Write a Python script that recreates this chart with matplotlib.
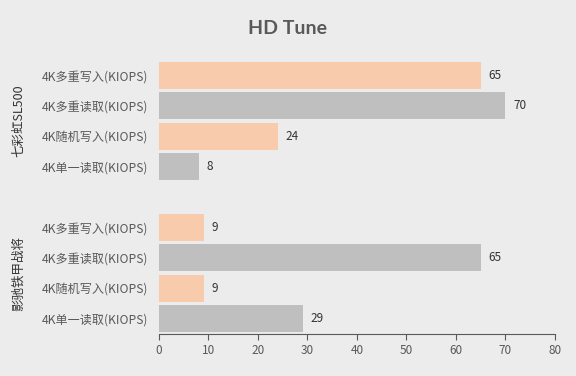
import matplotlib
matplotlib.use('Agg')
import matplotlib.pyplot as plt

plt.rcParams['font.family'] = ['Noto Sans CJK SC', 'DejaVu Sans']

groups = ['七彩虹SL500', '影驰铁甲战将']
labels = ['4K多重写入(KIOPS)', '4K多重读取(KIOPS)', '4K随机写入(KIOPS)', '4K单一读取(KIOPS)']
values = {
    '七彩虹SL500': [65, 70, 24, 8],
    '影驰铁甲战将': [9, 65, 9, 29],
}
x_ticks = [0, 10, 20, 30, 40, 50, 60, 70, 80]

bg = '#ECECEC'
orange = '#F8CBAD'
grey = '#BFBFBF'
txt = '#595959'

fig = plt.figure(figsize=(5.76, 3.76), dpi=100, facecolor=bg)
ax = fig.add_axes([0.276, 0.112, 0.6875, 0.728], facecolor=bg)

ypos, ylabels = [], []
for gi, g in enumerate(groups):
    for i, (lab, v) in enumerate(zip(labels, values[g])):
        y = gi * 5 + i
        col = orange if i % 2 == 0 else grey
        ax.barh(y, v, height=0.88, color=col)
        ax.text(v + 1.6, y, str(v), va='center', ha='left', fontsize=8.5, color='#333333')
        ypos.append(y)
        ylabels.append(lab)
    ax.text(-0.355, gi * 5 + 1.5, g, transform=ax.get_yaxis_transform(), rotation=90,
            va='center', ha='center', fontsize=9, color='#333333')

ax.set_yticks(ypos)
ax.set_yticklabels(ylabels, fontsize=8.7, color=txt)
ax.set_ylim(8.5, -0.5)
ax.set_xlim(0, 80)
ax.set_xticks(x_ticks)
ax.tick_params(axis='x', labelsize=8.5, labelcolor=txt, color=txt, length=4)
ax.tick_params(axis='y', length=0, pad=8)
for s in ['top', 'right', 'left']:
    ax.spines[s].set_visible(False)
ax.spines['bottom'].set_color(txt)

fig.suptitle('HD Tune', x=0.5, y=0.948, fontsize=14, fontweight='bold', color=txt,
             family=['Lato', 'DejaVu Sans'])
fig.savefig('out.png', facecolor=bg)
